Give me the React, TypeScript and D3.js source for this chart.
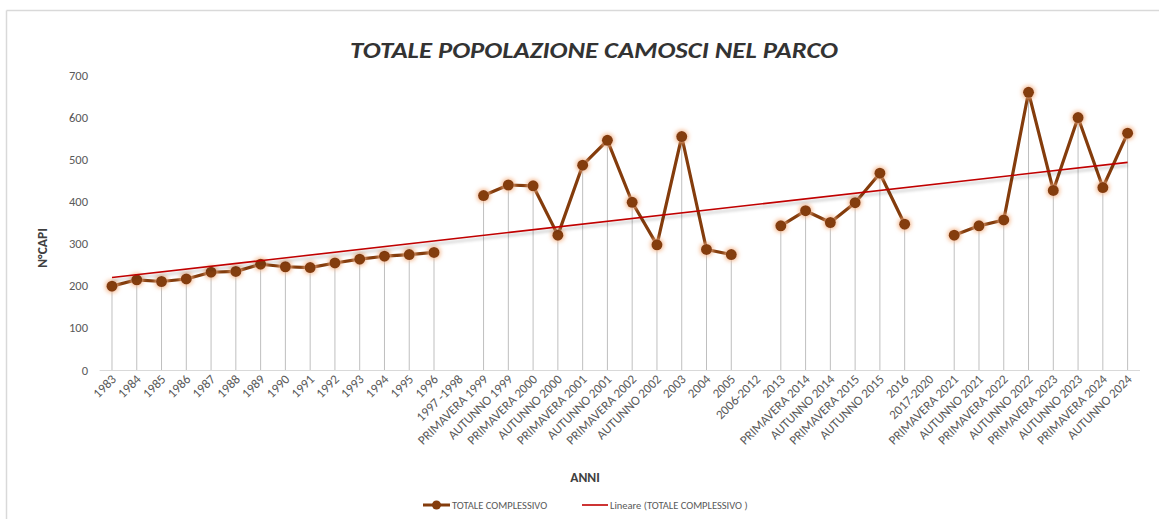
import React from "react";
import * as d3 from "d3";

const categories: string[] = [
  "1983", "1984", "1985", "1986", "1987", "1988", "1989", "1990", "1991", "1992", "1993", "1994", "1995", "1996",
  "1997 -1998",
  "PRIMAVERA 1999", "AUTUNNO 1999", "PRIMAVERA 2000", "AUTUNNO 2000", "PRIMAVERA 2001", "AUTUNNO 2001", "PRIMAVERA 2002", "AUTUNNO 2002",
  "2003", "2004", "2005",
  "2006-2012",
  "2013", "PRIMAVERA 2014", "AUTUNNO 2014", "PRIMAVERA 2015", "AUTUNNO 2015", "2016",
  "2017-2020",
  "PRIMAVERA 2021", "AUTUNNO 2021", "PRIMAVERA 2022", "AUTUNNO 2022", "PRIMAVERA 2023", "AUTUNNO 2023", "PRIMAVERA 2024", "AUTUNNO 2024",
];

const totals: (number | null)[] = [
  199, 214, 210, 216, 232, 234, 251, 245, 243, 254, 263, 270, 274, 279,
  null,
  414, 439, 437, 320, 486, 545, 398, 297,
  554, 286, 274,
  null,
  342, 378, 350, 397, 467, 346,
  null,
  320, 342, 356, 659, 426, 599, 433, 562,
];

const yTicks: number[] = [0, 100, 200, 300, 400, 500, 600, 700];

const W = 1159;
const H = 519;
const left = 99.6;
const right = 1140;
const top = 75;
const bottom = 370;

export default function App() {
  const x = d3.scaleBand<string>().domain(categories).range([left, right]).paddingInner(0).paddingOuter(0);
  const y = d3.scaleLinear().domain([0, 700]).range([bottom, top]);
  const cx = (c: string) => (x(c) as number) + x.bandwidth() / 2;

  const pts = categories
    .map((c, i) => ({ c, i: i + 1, v: totals[i] }))
    .filter((d) => d.v !== null) as { c: string; i: number; v: number }[];

  // least-squares linear trend (Excel "Lineare")
  const mx = d3.mean(pts, (d) => d.i) as number;
  const my = d3.mean(pts, (d) => d.v) as number;
  const slope =
    (d3.sum(pts, (d) => (d.i - mx) * (d.v - my)) as number) /
    (d3.sum(pts, (d) => (d.i - mx) * (d.i - mx)) as number);
  const intercept = my - slope * mx;
  const trendAt = (i: number) => intercept + slope * i;
  const firstC = categories[0];
  const lastC = categories[categories.length - 1];

  const line = d3
    .line<{ c: string; v: number | null }>()
    .defined((d) => d.v !== null)
    .x((d) => cx(d.c))
    .y((d) => y(d.v as number));
  const lineData = categories.map((c, i) => ({ c, v: totals[i] }));
  const pathD = line(lineData) || "";

  const grey = "#595959";
  const brown = "#843c0c";

  return (
    <div style={{ position: "absolute", left: 0, top: 0 }}>
      <svg width={W} height={H} style={{ display: "block", fontFamily: "Carlito, 'Open Sans', 'Liberation Sans', Arial, sans-serif" }}>
        <defs>
          <filter id="glow" x="-50%" y="-50%" width="200%" height="200%">
            <feMorphology operator="dilate" radius="1" in="SourceAlpha" result="d" />
            <feGaussianBlur in="d" stdDeviation="2" result="b" />
            <feFlood floodColor="#f4b183" floodOpacity="0.9" />
            <feComposite in2="b" operator="in" result="g" />
            <feMerge>
              <feMergeNode in="g" />
              <feMergeNode in="SourceGraphic" />
            </feMerge>
          </filter>
          <filter id="shadow" x="-5%" y="-200%" width="110%" height="500%">
            <feOffset in="SourceAlpha" dx="0" dy="3" result="o" />
            <feGaussianBlur in="o" stdDeviation="1.5" result="b" />
            <feFlood floodColor="#000" floodOpacity="0.25" />
            <feComposite in2="b" operator="in" result="s" />
            <feMerge>
              <feMergeNode in="s" />
              <feMergeNode in="SourceGraphic" />
            </feMerge>
          </filter>
        </defs>
        <rect x={0} y={0} width={W} height={H} fill="#fff" />
        {/* chart border */}
        <line x1={6.5} y1={10.5} x2={W} y2={10.5} stroke="#d9d9d9" strokeWidth={1.5} />
        <line x1={6.5} y1={10.5} x2={6.5} y2={H} stroke="#d9d9d9" strokeWidth={1.5} />

        {/* title */}
        <text x={594} y={58} textAnchor="middle" fontSize={23} fontWeight="bold" fontStyle="italic" fill="#333333" textLength={488} lengthAdjust="spacingAndGlyphs">
          TOTALE POPOLAZIONE CAMOSCI NEL PARCO
        </text>

        {/* y tick labels */}
        {yTicks.map((t) => (
          <text key={t} x={88} y={y(t) + 4.5} textAnchor="end" fontSize={12.5} fill={grey}>
            {t}
          </text>
        ))}

        {/* y axis title */}
        <text transform={`translate(47,248) rotate(-90)`} textAnchor="middle" fontSize={13.5} fontWeight="bold" fill="#404040">
          N°CAPI
        </text>

        {/* x axis line */}
        <line x1={left} y1={bottom + 0.5} x2={right} y2={bottom + 0.5} stroke="#d9d9d9" strokeWidth={1} />

        {/* drop lines */}
        {pts.map((d) => (
          <line key={"dl" + d.c} x1={cx(d.c)} y1={y(d.v)} x2={cx(d.c)} y2={bottom} stroke="#bfbfbf" strokeWidth={1} />
        ))}

        {/* x tick labels */}
        {categories.map((c) => (
          <text key={"xl" + c} transform={`translate(${cx(c) + 5},${bottom + 10}) rotate(-45)`} textAnchor="end" fontSize={13} fill={grey}>
            {c}
          </text>
        ))}

        {/* x axis title */}
        <text x={585} y={482} textAnchor="middle" fontSize={13.5} fontWeight="bold" fill="#404040">
          ANNI
        </text>

        {/* series line */}
        <path d={pathD} fill="none" stroke={brown} strokeWidth={3.2} strokeLinejoin="round" />
        {pts.map((d) => (
          <circle key={"pt" + d.c} cx={cx(d.c)} cy={y(d.v)} r={5.5} fill={brown} filter="url(#glow)" />
        ))}

        {/* trend line */}
        <line
          x1={cx(firstC)}
          y1={y(trendAt(1))}
          x2={cx(lastC)}
          y2={y(trendAt(categories.length))}
          stroke="#c00000"
          strokeWidth={1.6}
          filter="url(#shadow)"
        />

        {/* legend */}
        <g fontSize={10.5} fill={grey}>
          <line x1={423} y1={505} x2={450} y2={505} stroke={brown} strokeWidth={3} />
          <circle cx={436.5} cy={505} r={4.5} fill={brown} />
          <text x={452} y={509}>TOTALE COMPLESSIVO</text>
          <line x1={582} y1={505} x2={608} y2={505} stroke="#c00000" strokeWidth={1.6} />
          <text x={610} y={509}>Lineare (TOTALE COMPLESSIVO )</text>
        </g>
      </svg>
    </div>
  );
}
